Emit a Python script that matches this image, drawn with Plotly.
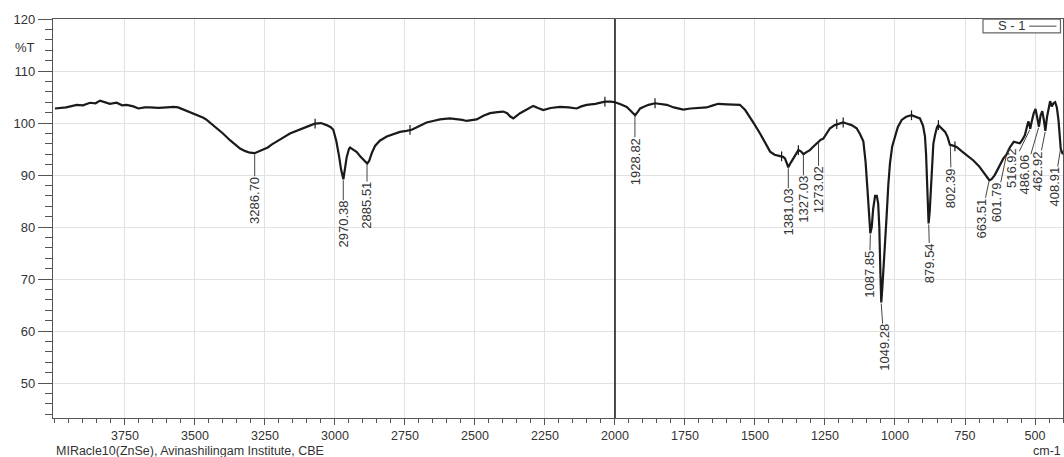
import plotly.graph_objects as go

# ---------------- data ----------------
wavenumber = [
    4000, 3960, 3922, 3900, 3875, 3855, 3839, 3820, 3804, 3780, 3760, 3744, 3720, 3702, 3680,
    3661, 3630, 3600, 3577, 3560, 3542, 3520, 3494, 3470, 3458, 3440, 3423, 3400, 3375, 3355,
    3339, 3320, 3304, 3287, 3270, 3256, 3240, 3225, 3208, 3185, 3161, 3135, 3113, 3090, 3071,
    3050, 3030, 3015, 3006, 2995, 2985, 2978, 2970, 2964, 2958, 2950, 2946, 2935, 2922, 2910,
    2899, 2890, 2885, 2878, 2868, 2857, 2840, 2815, 2790, 2768, 2745, 2726, 2700, 2673, 2650,
    2625, 2590, 2565, 2545, 2530, 2510, 2494, 2470, 2446, 2420, 2399, 2385, 2375, 2363, 2350,
    2339, 2315, 2292, 2275, 2256, 2230, 2196, 2165, 2137, 2120, 2101, 2070, 2036, 2015, 2000,
    1980, 1958, 1945, 1935, 1928, 1918, 1910, 1899, 1880, 1857, 1835, 1815, 1790, 1770, 1756,
    1730, 1700, 1673, 1650, 1631, 1600, 1570, 1554, 1535, 1518, 1500, 1482, 1465, 1446, 1430,
    1411, 1400, 1393, 1386, 1381, 1372, 1363, 1352, 1345, 1335, 1327, 1316, 1304, 1295, 1286,
    1280, 1273, 1265, 1256, 1245, 1232, 1215, 1196, 1185, 1173, 1155, 1137, 1125, 1113, 1105,
    1098, 1092, 1088, 1083, 1078, 1071, 1065, 1060, 1056, 1052, 1049, 1045, 1038, 1030, 1024,
    1018, 1010, 1000, 990, 976, 960, 941, 925, 911, 900, 893, 889, 885, 880, 876,
    872, 868, 863, 857, 850, 845, 835, 821, 812, 804, 795, 780, 760, 740, 720,
    700, 685, 673, 663, 655, 645, 635, 625, 613, 602, 590, 576, 565, 554, 545,
    536, 530, 524, 520, 517, 512, 505, 498, 492, 486, 480, 474, 468, 463, 457,
    450, 446, 440, 434, 428, 422, 416, 412, 408, 402, 400,
]
transmittance = [
    102.8, 103.0, 103.5, 103.4, 103.9, 103.8, 104.3, 104.0, 103.7, 103.9, 103.4, 103.5, 103.2, 102.8, 103.0,
    103.0, 102.9, 103.0, 103.1, 103.0, 102.6, 102.2, 101.5, 101.0, 100.6, 99.8, 99.0, 98.0, 96.7, 95.8,
    95.1, 94.6, 94.3, 94.2, 94.6, 94.9, 95.3, 95.9, 96.4, 97.2, 98.0, 98.6, 99.0, 99.5, 99.9,
    100.0, 99.6, 99.2, 98.7, 96.5, 93.5, 91.0, 89.2, 91.5, 93.5, 95.0, 95.3, 94.9, 94.4, 93.6,
    92.9, 92.4, 92.2, 92.7, 94.3, 95.6, 96.6, 97.4, 97.9, 98.3, 98.5, 98.7, 99.4, 100.1, 100.4,
    100.7, 100.9, 100.8, 100.6, 100.4, 100.5, 100.7, 101.4, 101.9, 102.1, 102.2, 101.9, 101.3, 100.9, 101.4,
    101.9, 102.6, 103.3, 102.9, 102.5, 102.9, 103.1, 103.0, 102.8, 103.2, 103.5, 103.7, 104.1, 104.1, 104.0,
    103.6, 103.1, 102.4, 101.8, 101.5, 102.2, 102.8, 103.1, 103.5, 103.8, 103.6, 103.5, 103.0, 102.7, 102.6,
    102.8, 102.9, 103.0, 103.4, 103.7, 103.6, 103.6, 103.5, 102.5, 101.2, 99.6, 98.0, 96.3, 94.5, 93.9,
    93.7, 93.5, 93.2, 92.3, 91.5, 92.4, 93.2, 94.2, 94.8, 94.5, 94.0, 94.4, 94.8, 95.3, 95.8,
    96.0, 96.4, 96.8, 97.0, 98.0, 99.0, 99.6, 99.9, 100.1, 99.9, 99.6, 99.0, 97.9, 96.5, 92.5,
    87.0, 81.5, 78.8, 80.0, 83.5, 86.0, 86.0, 84.5, 80.0, 71.0, 65.5, 68.5, 76.0, 82.0, 88.0,
    92.2, 95.5, 97.6, 99.2, 100.6, 101.2, 101.5, 101.2, 100.9, 99.5, 97.5, 94.0, 88.0, 80.7, 83.0,
    88.0, 92.5, 96.0, 97.7, 99.2, 99.6, 99.0, 98.3, 97.3, 95.8, 95.7, 95.4, 94.5, 93.7, 92.8,
    91.7, 90.6, 89.7, 89.0, 89.2, 89.9, 90.9, 92.0, 93.2, 93.9, 95.3, 96.4, 96.3, 96.1, 96.8,
    97.7, 99.0, 100.3, 99.8, 98.9, 100.2, 101.8, 102.7, 101.0, 99.3, 101.5, 102.3, 100.5, 98.5, 101.2,
    103.5, 104.2, 103.2, 103.8, 104.0, 103.0, 100.5, 97.0, 95.0, 94.2, 94.0,
]

# small crosshair marks drawn on the trace
mark_wn = [3071, 2732, 2036, 1857, 1405, 1345, 1208, 1185, 941, 845, 786]
mark_t = [99.9, 98.7, 104.1, 103.8, 93.6, 94.8, 99.8, 100.1, 101.5, 99.6, 95.5]

# labelled peaks
peak_wn = [3286.70, 2970.38, 2885.51, 1928.82, 1381.03, 1327.03, 1273.02, 1087.85,
           1049.28, 879.54, 802.39, 663.51, 601.79, 516.92, 486.06, 462.92, 408.91]
peak_t = [94.2, 89.2, 92.2, 101.5, 91.5, 94.0, 96.4, 78.8,
          65.5, 80.7, 95.8, 89.0, 93.9, 98.9, 99.3, 98.5, 95.0]
peak_labels = ["3286.70", "2970.38", "2885.51", "1928.82", "1381.03", "1327.03", "1273.02", "1087.85",
               "1049.28", "879.54", "802.39", "663.51", "601.79", "516.92", "486.06", "462.92", "408.91"]

x_tick_vals = [3750, 3500, 3250, 3000, 2750, 2500, 2250, 2000, 1750, 1500, 1250, 1000, 750, 500]
y_tick_vals = [50, 60, 70, 80, 90, 100, 110, 120]
divider_wn = 2000
series_name = "S - 1"

# ---------------- layout helpers (pixel offsets of labels) ----------------
label_dx = [0, 0, 0, 0, 0, 0, 0, -1, 3, 1, 1, -8, -10, -19, -14, -8, -6]
label_dy = [47, 45, 42, 46, 45, 45, 48, 41, 45, 40, 43, 38, 48, 39, 48, 40, 38]

LINE = "#1a1a1a"
TXT = "#333333"
FONT = "Liberation Sans, Arial, sans-serif"

fig = go.Figure()
fig.add_trace(go.Scatter(x=wavenumber, y=transmittance, mode="lines",
                         line=dict(color=LINE, width=2.2), name=series_name,
                         showlegend=False, hoverinfo="skip"))
fig.add_trace(go.Scatter(x=mark_wn, y=mark_t, mode="markers",
                         marker=dict(symbol="line-ns", size=7, line=dict(color=LINE, width=1.2)),
                         showlegend=False, hoverinfo="skip"))

annotations = []
for wn, t, lab, dx, dy in zip(peak_wn, peak_t, peak_labels, label_dx, label_dy):
    annotations.append(dict(
        x=wn, y=t, xref="x", yref="y", text=lab, textangle=-90,
        showarrow=True, arrowhead=0, arrowwidth=1, arrowcolor="#444",
        ax=dx, ay=dy, standoff=1, borderpad=0,
        font=dict(family=FONT, size=13, color=TXT)))

annotations += [
    dict(text="%T", xref="paper", yref="y", x=0, y=114.6, xshift=-28,
         xanchor="center", yanchor="middle", showarrow=False,
         font=dict(family=FONT, size=13, color=TXT)),
    dict(text="MIRacle10(ZnSe), Avinashilingam Institute, CBE", xref="paper", yref="paper",
         x=0, y=-0.0815, xshift=1, xanchor="left", yanchor="middle", showarrow=False,
         font=dict(family=FONT, size=12.5, color=TXT)),
    dict(text="cm-1", xref="paper", yref="paper", x=1, y=-0.0815, xshift=0,
         xanchor="right", yanchor="middle", showarrow=False,
         font=dict(family=FONT, size=12.5, color=TXT)),
    dict(text=series_name, xref="paper", yref="paper", x=0.9335, y=0.9825,
         xanchor="left", yanchor="middle", showarrow=False,
         font=dict(family=FONT, size=13, color=TXT)),
]

shapes = [
    dict(type="line", xref="x", yref="paper", x0=divider_wn, x1=divider_wn, y0=0, y1=1,
         line=dict(color="#111", width=1.5)),
    dict(type="rect", xref="paper", yref="paper", x0=0.9208, x1=0.9975, y0=0.965, y1=0.9995,
         line=dict(color="#666", width=1.2), fillcolor="white"),
    dict(type="line", xref="paper", yref="paper", x0=0.9665, x1=0.9935, y0=0.982, y1=0.982,
         line=dict(color="#666", width=1.2)),
]

fig.update_layout(
    width=1064, height=457,
    margin=dict(l=53, r=1, t=19, b=39),
    paper_bgcolor="white", plot_bgcolor="white",
    font=dict(family=FONT, size=13, color=TXT),
    showlegend=False,
    annotations=annotations, shapes=shapes,
    xaxis=dict(range=[4007, 400], tickmode="array", tickvals=x_tick_vals,
               ticks="outside", ticklen=6, tickwidth=1, tickcolor="#555",
               showline=True, linecolor="#555", linewidth=1.2, mirror=True,
               showgrid=True, gridcolor="#e2e2e2", gridwidth=1, zeroline=False,
               tickfont=dict(family=FONT, size=12.5, color=TXT),
               minor=dict(dtick=50, tick0=0, ticks="outside", ticklen=4, tickcolor="#555",
                          showgrid=False)),
    yaxis=dict(range=[43.3, 120], tickmode="array", tickvals=y_tick_vals,
               ticks="outside", ticklen=14, tickwidth=1, tickcolor="#555",
               showline=True, linecolor="#555", linewidth=1.2, mirror=True,
               showgrid=True, gridcolor="#e2e2e2", gridwidth=1, zeroline=False,
               tickfont=dict(family=FONT, size=13, color=TXT),
               minor=dict(dtick=2, tick0=0, ticks="outside", ticklen=7, tickcolor="#555",
                          showgrid=False)),
)

fig.write_html(
    "out.html",
    config={"displayModeBar": False},
    post_script="document.body.style.margin='0';document.body.style.padding='0';"
                "document.body.style.overflow='hidden';",
)
